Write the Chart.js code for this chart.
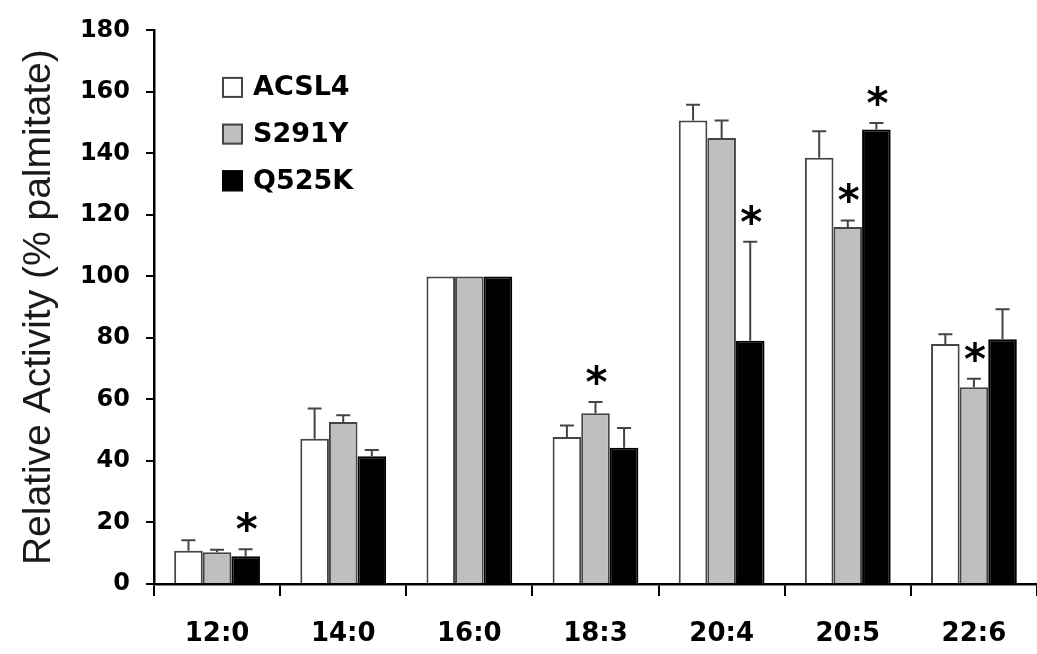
<!DOCTYPE html>
<html>
<head>
<meta charset="utf-8">
<script src="https://cdn.jsdelivr.net/npm/chart.js@4.4.1/dist/chart.umd.min.js"></script>
<style>
  body { margin: 0; background: #fff; }
  #wrap { width: 1037px; height: 654px; position: relative; }
</style>
</head>
<body>
<div id="wrap"><canvas id="chart"></canvas></div>
<script>
// fatty acid substrates
const categories = ['12:0', '14:0', '16:0', '18:3', '20:4', '20:5', '22:6'];

// relative activity (% palmitate)
const acsl4 = [10.8, 47.2, 100, 47.8, 150.7, 138.6, 78.0];
const acsl4Err = [3.4, 9.9, 0, 3.7, 5.1, 8.6, 3.2];
const s291y = [10.3, 52.7, 100, 55.5, 145.0, 116.1, 64.0];
const s291yErr = [0.8, 2.2, 0, 3.7, 5.7, 2.1, 2.7];
const q525k = [9.0, 41.5, 100, 44.3, 79.1, 147.8, 79.6];
const q525kErr = [2.3, 2.1, 0, 6.4, 32.2, 2.1, 9.7];

// significance marks
const acsl4Star = [0, 0, 0, 0, 0, 0, 0];
const s291yStar = [0, 0, 0, 1, 0, 1, 1];
const q525kStar = [1, 0, 0, 0, 1, 1, 0];

const yTicks = [0, 20, 40, 60, 80, 100, 120, 140, 160, 180];

// error bars + asterisks
const errorBars = {
    id: 'errorBars',
    afterDatasetsDraw(chart) {
        const ctx = chart.ctx;
        const y = chart.scales.y;
        chart.data.datasets.forEach((ds, i) => {
            const meta = chart.getDatasetMeta(i);
            meta.data.forEach((bar, j) => {
                const err = ds.errors[j];
                let top = bar.y;
                ctx.save();
                if (err) {
                    top = y.getPixelForValue(ds.data[j] + err);
                    ctx.strokeStyle = '#444';
                    ctx.lineWidth = 2;
                    ctx.beginPath();
                    ctx.moveTo(bar.x, bar.y);
                    ctx.lineTo(bar.x, top);
                    ctx.moveTo(bar.x - 7, top);
                    ctx.lineTo(bar.x + 7, top);
                    ctx.stroke();
                }
                if (ds.stars[j]) {
                    ctx.fillStyle = '#000';
                    ctx.font = 'bold 42px "DejaVu Sans"';
                    ctx.textAlign = 'center';
                    ctx.textBaseline = 'alphabetic';
                    ctx.fillText('*', bar.x + 1, top - 27 + 22);
                }
                ctx.restore();
            });
        });
    }
};

// legend drawn inside the plot, top left
const innerLegend = {
    id: 'innerLegend',
    afterDraw(chart) {
        const ctx = chart.ctx;
        const area = chart.chartArea;
        ctx.save();
        chart.data.datasets.forEach((ds, i) => {
            const cy = area.top + 57 + i * 46.7;
            const bx = area.left + 68;
            ctx.fillStyle = ds.backgroundColor;
            ctx.fillRect(bx, cy - 10.5, 21, 21);
            ctx.strokeStyle = ds.borderColor;
            ctx.lineWidth = 2;
            ctx.strokeRect(bx + 1, cy - 9.5, 19, 19);
            ctx.fillStyle = '#000';
            ctx.font = 'bold 27px "DejaVu Sans"';
            ctx.textAlign = 'left';
            ctx.textBaseline = 'middle';
            ctx.fillText(ds.label, bx + 31, cy + 1);
        });
        ctx.restore();
    }
};

const ctx = document.getElementById('chart').getContext('2d');
const chart = new Chart(ctx, {
    type: 'bar',
    data: {
        labels: categories,
        datasets: [
            { label: 'ACSL4', data: acsl4, errors: acsl4Err, stars: acsl4Star,
              backgroundColor: '#ffffff', borderColor: '#444444', borderWidth: 2 },
            { label: 'S291Y', data: s291y, errors: s291yErr, stars: s291yStar,
              backgroundColor: '#bfbfbf', borderColor: '#444444', borderWidth: 2 },
            { label: 'Q525K', data: q525k, errors: q525kErr, stars: q525kStar,
              backgroundColor: '#000000', borderColor: '#000000', borderWidth: 2 }
        ]
    },
    options: {
        responsive: true,
        maintainAspectRatio: false,
        animation: false,
        layout: { padding: { top: 20, right: 0, left: 0, bottom: 0 } },
        datasets: { bar: { categoryPercentage: 0.68, barPercentage: 1.0 } },
        plugins: {
            legend: { display: false },
            tooltip: { enabled: false }
        },
        scales: {
            x: {
                afterFit(scale) { scale.height = 70; },
                grid: { offset: true, drawOnChartArea: false, tickLength: 12, color: '#000', lineWidth: 2 },
                border: { display: true, color: '#000', width: 2.5 },
                ticks: { color: '#000', padding: 23, font: { family: 'DejaVu Sans', size: 26, weight: 'bold' } }
            },
            y: {
                min: 0,
                max: 180,
                afterFit(scale) { scale.width = 154; },
                afterBuildTicks(scale) { scale.ticks = yTicks.map(v => ({ value: v })); },
                grid: { drawOnChartArea: false, tickLength: 8, color: '#000', lineWidth: 2 },
                border: { display: true, color: '#000', width: 2.5 },
                ticks: { color: '#000', padding: 16, font: { family: 'DejaVu Sans', size: 24, weight: 'bold' } },
                title: {
                    display: true,
                    text: 'Relative Activity (% palmitate)',
                    color: '#1a1a1a',
                    padding: { top: 16, bottom: 0 },
                    font: { family: 'Liberation Sans', size: 39, weight: 'normal' }
                }
            }
        }
    },
    plugins: [errorBars, innerLegend]
});
</script>
</body>
</html>
